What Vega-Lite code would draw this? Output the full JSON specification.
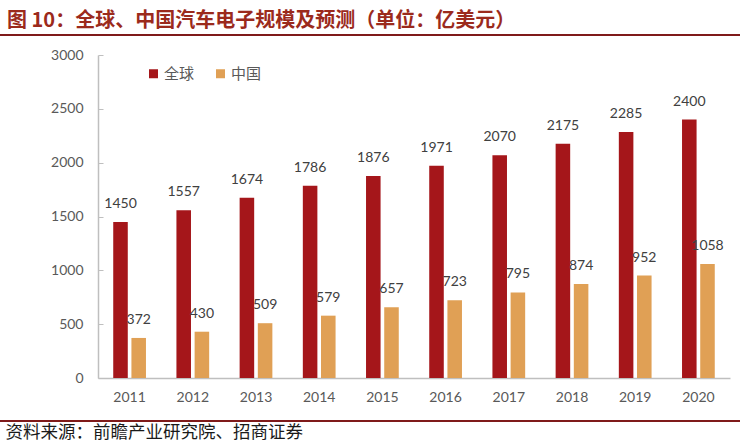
{
  "$schema": "https://vega.github.io/schema/vega-lite/v6.json",
  "width": 632,
  "height": 323,
  "autosize": "none",
  "padding": {"left": 98, "top": 55, "right": 10, "bottom": 66},
  "background": "white",
  "config": {"view": {"stroke": null}, "font": "Lato"},
  "title": {
    "text": "图 10：全球、中国汽车电子规模及预测（单位：亿美元）",
    "anchor": "start",
    "frame": "group",
    "dx": -91,
    "offset": 3,
    "font": "Noto Sans CJK SC",
    "fontSize": 20,
    "fontWeight": "bold",
    "color": "#9B2A1C"
  },
  "data": {
    "values": [
      {"year": "2011", "region": "全球", "value": 1450},
      {"year": "2011", "region": "中国", "value": 372},
      {"year": "2012", "region": "全球", "value": 1557},
      {"year": "2012", "region": "中国", "value": 430},
      {"year": "2013", "region": "全球", "value": 1674},
      {"year": "2013", "region": "中国", "value": 509},
      {"year": "2014", "region": "全球", "value": 1786},
      {"year": "2014", "region": "中国", "value": 579},
      {"year": "2015", "region": "全球", "value": 1876},
      {"year": "2015", "region": "中国", "value": 657},
      {"year": "2016", "region": "全球", "value": 1971},
      {"year": "2016", "region": "中国", "value": 723},
      {"year": "2017", "region": "全球", "value": 2070},
      {"year": "2017", "region": "中国", "value": 795},
      {"year": "2018", "region": "全球", "value": 2175},
      {"year": "2018", "region": "中国", "value": 874},
      {"year": "2019", "region": "全球", "value": 2285},
      {"year": "2019", "region": "中国", "value": 952},
      {"year": "2020", "region": "全球", "value": 2400},
      {"year": "2020", "region": "中国", "value": 1058}
    ]
  },
  "layer": [
    {
      "mark": {"type": "bar"},
      "encoding": {
        "x": {
          "field": "year",
          "type": "nominal",
          "scale": {"paddingInner": 0.482, "paddingOuter": 0.241},
          "axis": {
            "labelAngle": 0,
            "labelFont": "Lato",
            "labelFontSize": 14,
            "labelColor": "#595959",
            "labelPadding": 12,
            "ticks": false,
            "domainColor": "#BFBFBF",
            "domainWidth": 1.5,
            "title": "资料来源：前瞻产业研究院、招商证券",
            "titleX": -93,
            "titleY": 54,
            "titleAlign": "left",
            "titleBaseline": "middle",
            "titleFont": "Noto Sans CJK SC",
            "titleFontWeight": "normal",
            "titleFontSize": 17.5,
            "titleColor": "#1A1A1A"
          }
        },
        "xOffset": {
          "field": "region",
          "sort": ["全球", "中国"],
          "scale": {"paddingInner": 0.2, "paddingOuter": 0}
        },
        "y": {
          "field": "value",
          "type": "quantitative",
          "scale": {"domain": [0, 3000]},
          "axis": {
            "values": [0, 500, 1000, 1500, 2000, 2500, 3000],
            "format": "d",
            "grid": false,
            "title": null,
            "labelFont": "Lato",
            "labelFontSize": 14,
            "labelColor": "#595959",
            "tickSize": -5,
            "tickColor": "#BFBFBF",
            "labelPadding": 20,
            "domainColor": "#BFBFBF",
            "domainWidth": 1.5
          }
        },
        "color": {
          "field": "region",
          "type": "nominal",
          "sort": ["全球", "中国"],
          "scale": {"domain": ["全球", "中国"], "range": ["#A5161A", "#E0A055"]},
          "legend": {
            "title": null,
            "orient": "none",
            "direction": "horizontal",
            "legendX": 48,
            "legendY": 11,
            "symbolType": "square",
            "symbolSize": 81,
            "symbolStrokeWidth": 0,
            "labelFont": "Noto Sans CJK SC",
            "labelFontSize": 15,
            "labelColor": "#595959",
            "labelOffset": 3,
            "columnPadding": 18
          }
        }
      }
    },
    {
      "mark": {"type": "text", "baseline": "alphabetic", "dy": -14, "font": "Lato", "fontSize": 14, "color": "#404040"},
      "encoding": {
        "x": {"field": "year", "type": "nominal"},
        "xOffset": {"field": "region", "sort": ["全球", "中国"]},
        "y": {"field": "value", "type": "quantitative"},
        "text": {"field": "value", "type": "quantitative"}
      }
    },
    {
      "mark": {"type": "rule", "stroke": "#7F1A1A", "strokeWidth": 2},
      "encoding": {"x": {"value": -98}, "x2": {"value": 642}, "y": {"value": -20}}
    },
    {
      "mark": {"type": "rule", "stroke": "#7F1A1A", "strokeWidth": 2},
      "encoding": {"x": {"value": -98}, "x2": {"value": 642}, "y": {"value": 366}}
    }
  ]
}
